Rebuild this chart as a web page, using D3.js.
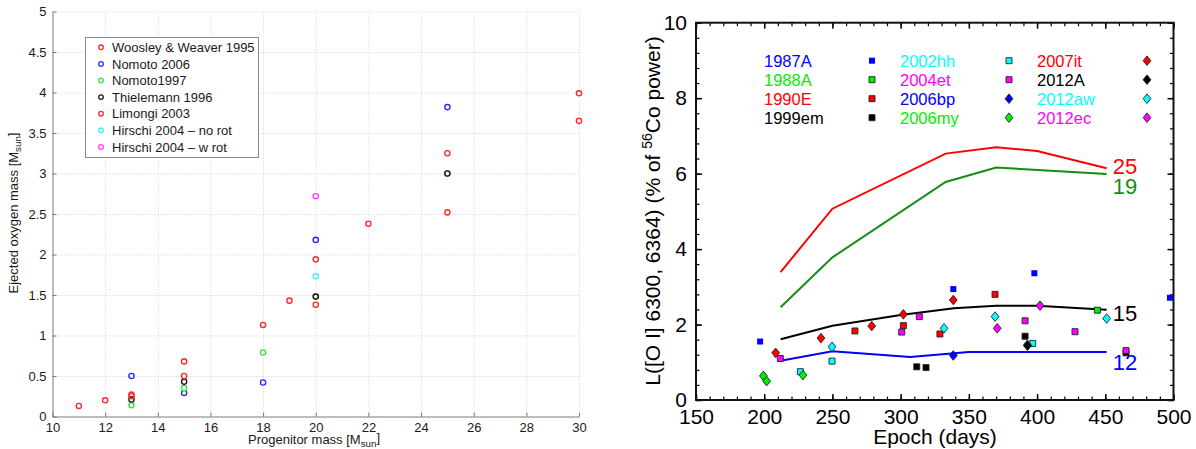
<!DOCTYPE html>
<html>
<head>
<meta charset="utf-8">
<script src="https://cdn.jsdelivr.net/npm/d3@7"></script>
<style>
body { margin: 0; background: #fff; }
svg { display: block; font-family: "Liberation Sans", Arial, Helvetica, sans-serif; }
</style>
</head>
<body>
<svg id="chart" width="1196" height="449"></svg>
<script>
// ---- left panel: ejected oxygen mass vs progenitor mass ----
const yieldNames = ["Woosley & Weaver 1995", "Nomoto 2006", "Nomoto1997", "Thielemann 1996",
  "Limongi 2003", "Hirschi 2004 \u2013 no rot", "Hirschi 2004 \u2013 w rot"]
const yieldColors = ["#ff2a2a", "#2a2aff", "#3ee23e", "#1e1e1e", "#ff2a2a", "#3ff3f3", "#ff3cff"]
const woosley95 = [[11, 0.13], [12, 0.20], [13, 0.27], [15, 0.68], [18, 1.13], [19, 1.43], [20, 1.94], [22, 2.38], [25, 3.25], [30, 3.99]]
const nomoto06 = [[13, 0.50], [15, 0.29], [18, 0.42], [20, 2.18], [25, 3.82]]
const nomoto97 = [[13, 0.14], [15, 0.35], [18, 0.79], [20, 1.48], [25, 3.00]]
const thielemann96 = [[13, 0.21], [15, 0.43], [20, 1.48], [25, 3.00]]
const limongi03 = [[13, 0.25], [15, 0.50], [20, 1.38], [25, 2.52], [30, 3.65]]
const hirschiNoRot = [[20, 1.73]]
const hirschiRot = [[20, 2.72]]
const yieldSets = [woosley95, nomoto06, nomoto97, thielemann96, limongi03, hirschiNoRot, hirschiRot]
const massTicks = [10, 12, 14, 16, 18, 20, 22, 24, 26, 28, 30]
const oxyTicks = [0, 0.5, 1, 1.5, 2, 2.5, 3, 3.5, 4, 4.5, 5]

// ---- right panel: [O I] luminosity vs epoch ----
const snNames = ["1987A", "1988A", "1990E", "1999em", "2002hh", "2004et",
  "2006bp", "2006my", "2007it", "2012A", "2012aw", "2012ec"]
const snColors = ["#0000ff", "#00ee00", "#ff0000", "#000000", "#00ffff", "#ff00ff",
  "#0000ff", "#00ee00", "#ff0000", "#000000", "#00ffff", "#ff00ff"]
const snShapes = ["square", "square", "square", "square", "square", "square",
  "diamond", "diamond", "diamond", "diamond", "diamond", "diamond"]
const sn1987A = [[197, 1.55], [338.6, 2.94], [398, 3.36], [497.4, 2.71]]
const sn1988A = [[444.2, 2.38]]
const sn1990E = [[266.5, 1.83], [302, 1.97], [328.8, 1.75], [369.2, 2.80]]
const sn1999em = [[311.8, 0.88], [318.6, 0.86], [391.2, 1.69], [465.2, 1.25]]
const sn2002hh = [[226.5, 0.75], [249.7, 1.03], [396.8, 1.50]]
const sn2004et = [[211.8, 1.10], [300.8, 1.80], [313.7, 2.21], [391.2, 2.10], [427.8, 1.81], [465.2, 1.31]]
const sn2006bp = [[338.6, 1.18], [392.9, 1.46]]
const sn2006my = [[199.4, 0.64], [201.8, 0.50], [228.4, 0.66]]
const sn2007it = [[208.4, 1.25], [241.6, 1.64], [278.8, 1.96], [302, 2.27], [338.6, 2.65]]
const sn2012A = [[393, 1.44]]
const sn2012aw = [[249.7, 1.41], [331.8, 1.90], [369.2, 2.21], [451, 2.16]]
const sn2012ec = [[370.8, 1.90], [402.2, 2.50]]
const snSets = [sn1987A, sn1988A, sn1990E, sn1999em, sn2002hh, sn2004et,
  sn2006bp, sn2006my, sn2007it, sn2012A, sn2012aw, sn2012ec]

const modelMasses = ["25", "19", "15", "12"]
const modelColors = ["#ff0000", "#148c14", "#000000", "#0000ff"]
const model25 = [[212, 3.39], [250, 5.07], [333, 6.53], [370, 6.70], [400, 6.60], [451, 6.14]]
const model19 = [[212, 2.46], [250, 3.78], [333, 5.78], [370, 6.16], [451, 5.99]]
const model15 = [[212, 1.61], [250, 1.97], [300, 2.25], [339, 2.43], [370, 2.50], [400, 2.50], [451, 2.39]]
const model12 = [[212, 1.04], [250, 1.29], [307, 1.14], [350, 1.27], [451, 1.27]]
const modelSets = [model25, model19, model15, model12]
const epochTicks = [150, 200, 250, 300, 350, 400, 450, 500]
const lumTicks = [0, 2, 4, 6, 8, 10]

const svg = d3.select("#chart")

function subscriptLabel(sel, main, sub, tail) {
  sel.append("tspan").text(main)
  sel.append("tspan").attr("font-size", "0.75em").attr("dy", "0.35em").text(sub)
  sel.append("tspan").attr("dy", "-0.35em").text(tail)
}

function drawLeft() {
  const x = d3.scaleLinear().domain([10, 30]).range([52.5, 579])
  const y = d3.scaleLinear().domain([0, 5]).range([416.5, 11.5])
  const g = svg.append("g")

  // dotted grid
  g.append("g")
    .attr("transform", "translate(0,416.5)")
    .call(d3.axisBottom(x).tickValues(massTicks.slice(1)).tickSize(-405).tickFormat(""))
    .call(s => s.select(".domain").remove())
    .selectAll("line").attr("stroke", "#cfcfcf").attr("stroke-dasharray", "1,2")
  g.append("g")
    .attr("transform", "translate(52.5,0)")
    .call(d3.axisLeft(y).tickValues(oxyTicks.slice(1)).tickSize(-526.5).tickFormat(""))
    .call(s => s.select(".domain").remove())
    .selectAll("line").attr("stroke", "#cfcfcf").attr("stroke-dasharray", "1,2")

  // axes
  const xa = g.append("g")
    .attr("transform", "translate(0,416.5)")
    .call(d3.axisBottom(x).tickValues(massTicks).tickSize(-4).tickPadding(6).tickSizeOuter(0))
  const ya = g.append("g")
    .attr("transform", "translate(52.5,0)")
    .call(d3.axisLeft(y).tickValues(oxyTicks).tickSize(-4).tickPadding(6).tickSizeOuter(0)
      .tickFormat(d => d))
  for (const a of [xa, ya]) {
    a.select(".domain").attr("stroke", "#7a7a7a")
    a.selectAll("line").attr("stroke", "#7a7a7a")
    a.selectAll("text").attr("font-size", 13).attr("fill", "#1a1a1a")
      .attr("font-family", "Liberation Sans, Arial, sans-serif")
  }

  // points
  yieldSets.forEach((set, i) => {
    g.append("g").selectAll("circle")
      .data(set).enter()
      .append("circle")
      .attr("cx", d => x(d[0]))
      .attr("cy", d => y(d[1]))
      .attr("r", 2.6)
      .attr("fill", "none")
      .attr("stroke", yieldColors[i])
      .attr("stroke-width", 1.4)
  })

  // legend
  const lg = g.append("g")
  lg.append("rect")
    .attr("x", 85.5).attr("y", 37.5).attr("width", 173).attr("height", 120)
    .attr("fill", "#fff").attr("stroke", "#8a8a8a")
  yieldNames.forEach((name, i) => {
    const cy = 47.3 + i * 16.6
    lg.append("circle").attr("cx", 101).attr("cy", cy).attr("r", 2.3)
      .attr("fill", "none").attr("stroke", yieldColors[i]).attr("stroke-width", 1.3)
    lg.append("text").attr("x", 112).attr("y", cy + 4.6)
      .attr("font-size", 13).attr("fill", "#1a1a1a").text(name)
  })

  // titles
  const xt = g.append("text").attr("x", 314).attr("y", 443.5)
    .attr("text-anchor", "middle").attr("font-size", 13).attr("fill", "#1a1a1a")
  subscriptLabel(xt, "Progenitor mass [M", "sun", "]")
  const yt = g.append("text").attr("transform", "translate(18,213) rotate(-90)")
    .attr("text-anchor", "middle").attr("font-size", 13).attr("fill", "#1a1a1a")
  subscriptLabel(yt, "Ejected oxygen mass [M", "sun", "]")
}

function marker(shape) {
  if (shape == "square") return "M-3,-3H3V3H-3Z"
  return "M0,-4.8L3.9,0L0,4.8L-3.9,0Z"
}

function drawRight() {
  const x = d3.scaleLinear().domain([150, 500]).range([696, 1173.5])
  const y = d3.scaleLinear().domain([0, 10]).range([400, 22.7])
  const g = svg.append("g")
  const font = 21

  // ticks, all inward, major + minor on every side
  const minorX = d3.range(150, 501, 10)
  const minorY = d3.range(0, 10.01, 0.4)
  const sides = [
    [d3.axisBottom(x), "translate(0,400)", epochTicks, minorX, true],
    [d3.axisTop(x), "translate(0,22.7)", epochTicks, minorX, false],
    [d3.axisLeft(y), "translate(696,0)", lumTicks, minorY, true],
    [d3.axisRight(y), "translate(1173.5,0)", lumTicks, minorY, false]
  ]
  sides.forEach(([ax, tr, major, minor, labels]) => {
    g.append("g").attr("transform", tr)
      .call(ax.tickValues(minor).tickSize(-3.5).tickFormat("").tickSizeOuter(0))
      .call(s => s.select(".domain").remove())
      .selectAll("line").attr("stroke", "#000").attr("stroke-width", 1.2)
    const a = g.append("g").attr("transform", tr)
      .call(ax.tickValues(major).tickSize(-6).tickPadding(labels ? 9 : 0)
        .tickFormat(labels ? (d => d) : ""))
      .call(s => s.select(".domain").remove())
    a.selectAll("line").attr("stroke", "#000").attr("stroke-width", 1.5)
    a.selectAll("text").attr("font-size", font).attr("fill", "#000")
      .attr("font-family", "Liberation Sans, Arial, sans-serif")
  })
  g.append("rect")
    .attr("x", 696).attr("y", 22.7).attr("width", 477.5).attr("height", 377.3)
    .attr("fill", "none").attr("stroke", "#111").attr("stroke-width", 2)

  // model curves
  const line = d3.line().x(d => x(d[0])).y(d => y(d[1]))
  const labelDy = [5.5, 20, 11, 18]
  modelSets.forEach((set, i) => {
    g.append("path").datum(set)
      .attr("d", line)
      .attr("fill", "none")
      .attr("stroke", modelColors[i])
      .attr("stroke-width", 2)
    const last = set[set.length - 1]
    g.append("text")
      .attr("x", x(last[0]) + 6)
      .attr("y", y(last[1]) + labelDy[i])
      .attr("font-size", 22)
      .attr("fill", modelColors[i])
      .text(modelMasses[i])
  })

  // observations
  snSets.forEach((set, i) => {
    g.append("g").selectAll("path")
      .data(set).enter()
      .append("path")
      .attr("d", marker(snShapes[i]))
      .attr("transform", d => `translate(${x(d[0])},${y(d[1])})`)
      .attr("fill", snColors[i])
      .attr("stroke", i == 0 ? "none" : "#222")
      .attr("stroke-width", 0.9)
  })

  // legend: three columns of four
  const colText = [764, 900, 1037]
  const colSym = [872, 1009, 1147]
  snNames.forEach((name, i) => {
    const c = Math.floor(i / 4), r = i % 4
    const cy = 60.7 + r * 19
    g.append("text").attr("x", colText[c]).attr("y", cy + 6)
      .attr("font-size", 16.5).attr("fill", snColors[i]).text(name)
    g.append("path").attr("d", marker(snShapes[i]))
      .attr("transform", `translate(${colSym[c]},${cy})`)
      .attr("fill", snColors[i])
      .attr("stroke", i == 0 ? "none" : "#222")
      .attr("stroke-width", 0.9)
  })

  // titles
  g.append("text").attr("x", 935).attr("y", 444)
    .attr("text-anchor", "middle").attr("font-size", font).text("Epoch (days)")
  const yt = g.append("text").attr("transform", "translate(660,211) rotate(-90)")
    .attr("text-anchor", "middle").attr("font-size", font)
  yt.append("tspan").text("L([O I] 6300, 6364) (% of ")
  yt.append("tspan").attr("font-size", 14).attr("dy", -8).text("56")
  yt.append("tspan").attr("dy", 8).text("Co power)")
}

drawLeft()
drawRight()
</script>
</body>
</html>
